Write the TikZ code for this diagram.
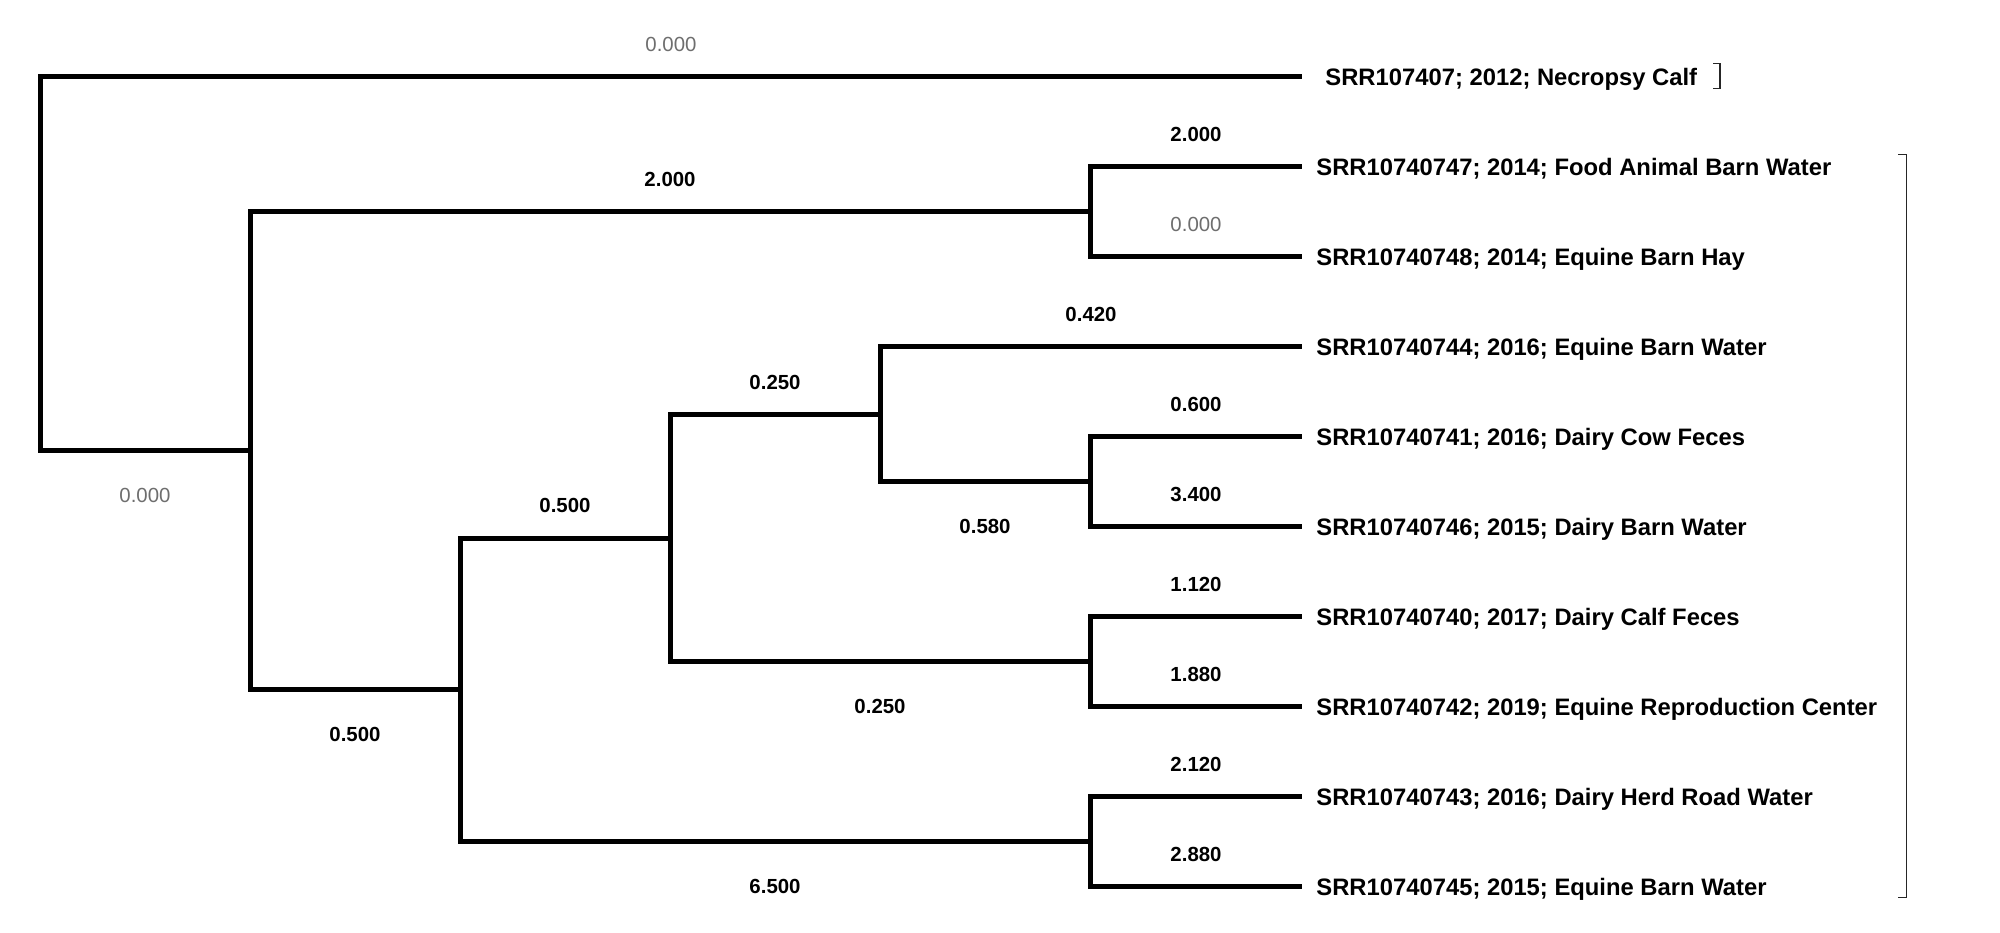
\documentclass[tikz,border=0pt]{standalone}
\usepackage{fontspec}
\setmainfont{Liberation Sans}
\usepackage{tikz}
\definecolor{zerogray}{RGB}{110,110,110}
\tikzset{
	branch/.style={line width=2.5pt, line join=miter},
	leaf/.style={anchor=west, inner xsep=7pt, inner ysep=0pt, text height=8.5pt, text depth=0pt, font=\fontsize{11.9}{14}\selectfont\bfseries},
	blen/.style={inner sep=0pt, text height=7.3pt, text depth=0pt, font=\fontsize{10.2}{12}\selectfont\bfseries},
	bzero/.style={blen, font=\fontsize{10.2}{12}\selectfont, text=zerogray},
	up/.style={pos=0.75, anchor=south, yshift=11.35pt},
	down/.style={pos=0.75, anchor=north, yshift=-17.35pt},
	bracket/.style={line width=0.75pt, black!85}
}

\begin{document}
\begin{tikzpicture}[x=0.5pt, y=-0.5pt]
			%%%%% START %%%%%
			
			\fill[white] (0, 0) rectangle (2000, 932);
			\useasboundingbox (0, 0) rectangle (2000, 932);
			
			% inner vertices
			\coordinate (root) at (40, 263.7);
			\coordinate (nA) at (250, 450.7);
			\coordinate (nB) at (1090, 211.7);
			\coordinate (nC) at (460, 689.8);
			\coordinate (nD) at (670, 538);
			\coordinate (nE) at (880, 414.2);
			\coordinate (nF) at (1090, 481.7);
			\coordinate (nG) at (1090, 661.7);
			\coordinate (nH) at (1090, 841.7);
			
			% tips
			\node[leaf, inner xsep=11.5pt] (calf12) at (1302, 76.7) {SRR107407; 2012; Necropsy Calf};
			\node[leaf] (foodbarn) at (1302, 166.7) {SRR10740747; 2014; Food Animal Barn Water};
			\node[leaf] (barnhay) at (1302, 256.7) {SRR10740748; 2014; Equine Barn Hay};
			\node[leaf] (barnwater16) at (1302, 346.7) {SRR10740744; 2016; Equine Barn Water};
			\node[leaf] (cowfeces) at (1302, 436.7) {SRR10740741; 2016; Dairy Cow Feces};
			\node[leaf] (dairybarn) at (1302, 526.7) {SRR10740746; 2015; Dairy Barn Water};
			\node[leaf] (calffeces) at (1302, 616.7) {SRR10740740; 2017; Dairy Calf Feces};
			\node[leaf] (repro) at (1302, 706.7) {SRR10740742; 2019; Equine Reproduction Center};
			\node[leaf] (roadwater) at (1302, 796.7) {SRR10740743; 2016; Dairy Herd Road Water};
			\node[leaf] (barnwater15) at (1302, 886.7) {SRR10740745; 2015; Equine Barn Water};
			
			% branches
			\draw[branch] (root) |- (calf12) node[bzero, up] (len0) {0.000};
			\draw[branch] (root) |- (nA) node[bzero, down] (len1) {0.000};
			\draw[branch] (nA) |- (nB) node[blen, up] (len2) {2.000};
			\draw[branch] (nA) |- (nC) node[blen, down] (len3) {0.500};
			\draw[branch] (nB) |- (foodbarn) node[blen, up] (len4) {2.000};
			\draw[branch] (nB) |- (barnhay) node[bzero, up] (len5) {0.000};
			\draw[branch] (nC) |- (nD) node[blen, up] (len6) {0.500};
			\draw[branch] (nC) |- (nH) node[blen, down] (len7) {6.500};
			\draw[branch] (nD) |- (nE) node[blen, up] (len8) {0.250};
			\draw[branch] (nD) |- (nG) node[blen, down] (len9) {0.250};
			\draw[branch] (nE) |- (barnwater16) node[blen, up] (len10) {0.420};
			\draw[branch] (nE) |- (nF) node[blen, down] (len11) {0.580};
			\draw[branch] (nF) |- (cowfeces) node[blen, up] (len12) {0.600};
			\draw[branch] (nF) |- (dairybarn) node[blen, up] (len13) {3.400};
			\draw[branch] (nG) |- (calffeces) node[blen, up] (len14) {1.120};
			\draw[branch] (nG) |- (repro) node[blen, up] (len15) {1.880};
			\draw[branch] (nH) |- (roadwater) node[blen, up] (len16) {2.120};
			\draw[branch] (nH) |- (barnwater15) node[blen, up] (len17) {2.880};
			
			% brackets
			\draw[bracket] (1713, 63.3) -- (1720, 63.3) -- (1720, 88.3) -- (1713, 88.3);
			\draw[bracket] (1898.3, 154.3) -- (1906.7, 154.3) -- (1906.7, 897.7) -- (1898.3, 897.7);
			
			%%%%% END %%%%%
		\end{tikzpicture}
\end{document}
